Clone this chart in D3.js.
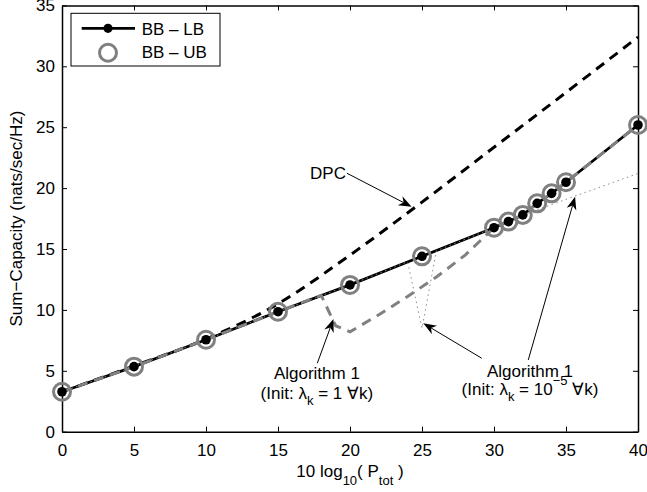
<!DOCTYPE html>
<html>
<head>
<meta charset="utf-8">
<script src="https://cdn.jsdelivr.net/npm/d3@7"></script>
<style>
body{margin:0;background:#fff}
text{font-family:"Liberation Sans",Arial,Helvetica,sans-serif}
</style>
</head>
<body>
<div id="chart"></div>
<script>
// branch-and-bound bounds (same points for LB and UB)
var bbX  = [0,5,10,15,20,25,30,31,32,33,34,35,40];
var bbLB = [3.28,5.34,7.55,9.85,12.05,14.4,16.75,17.25,17.8,18.75,19.57,20.48,25.18];
var bbUB = [3.28,5.34,7.55,9.85,12.05,14.4,16.75,17.25,17.8,18.75,19.57,20.48,25.18];

// dirty paper coding
var dpcX = [0,5,10,15,20,25,30,35,40];
var dpcY = [3.28,5.4,7.6,10.5,14.5,18.85,23.35,27.85,32.4];

// algorithm 1, init lambda = 1 (gray dashed)
var alg1aX = [0,5,10,15,18,19,20,22,24,26,28,30,31,32,33,34,35,40];
var alg1aY = [3.28,5.34,7.55,9.85,11.2,8.7,8.2,9.6,11.1,12.7,14.5,16.75,17.25,17.8,18.75,19.57,20.48,25.18];

// algorithm 1, init lambda = 1e-5 (dotted)
var alg1bX = [0,5,10,15,20,24,25,26,30,31,32,40];
var alg1bY = [3.28,5.34,7.55,9.85,12.05,13.95,8.5,14.85,16.75,17.25,17.8,21.2];

var xTicks = [0,5,10,15,20,25,30,35,40];
var yTicks = [0,5,10,15,20,25,30,35];

// annotation arrows [x1,y1,x2,y2] in data units (tip at x2,y2)
var arrows = [[19.79,21.22,24.28,18.47],[17.73,5.62,18.85,9.25],[29.15,6.03,25.09,8.9],[32.38,5.89,35.63,19.29]];

var W = 647, H = 492;
var svg = d3.select("#chart").append("svg").attr("width",W).attr("height",H);

var x = d3.scaleLinear().domain([0,40]).range([62,638]);
var y = d3.scaleLinear().domain([0,35]).range([431.7,5.4]);

var fs = 17;

function zipXY(a,b){ return a.map(function(v,i){ return [v,b[i]]; }); }
var line = d3.line().x(function(d){return x(d[0]);}).y(function(d){return y(d[1]);});
var curve = d3.line().curve(d3.curveMonotoneX).x(function(d){return x(d[0]);}).y(function(d){return y(d[1]);});

// axes (ticks pointing inward, box all round)
var gx = svg.append("g").attr("transform","translate(0,"+y(0)+")")
  .call(d3.axisBottom(x).tickValues(xTicks).tickSizeInner(-5).tickSizeOuter(0).tickPadding(12));
var gx2 = svg.append("g").attr("transform","translate(0,"+y(35)+")")
  .call(d3.axisTop(x).tickValues(xTicks).tickSizeInner(-5).tickSizeOuter(0).tickFormat(""));
var gy = svg.append("g").attr("transform","translate("+x(0)+",0)")
  .call(d3.axisLeft(y).tickValues(yTicks).tickSizeInner(-5).tickSizeOuter(0).tickPadding(7));
var gy2 = svg.append("g").attr("transform","translate("+x(40)+",0)")
  .call(d3.axisRight(y).tickValues(yTicks).tickSizeInner(-5).tickSizeOuter(0).tickFormat(""));
svg.selectAll(".domain").attr("stroke","#000").attr("stroke-width",1.5);
svg.selectAll(".tick line").attr("stroke","#000").attr("stroke-width",1);
svg.selectAll(".tick text").attr("font-size",fs+"px").attr("fill","#000")
  .style("font-family","'Liberation Sans',Arial,sans-serif");

// series lines
svg.append("path").attr("d",curve(zipXY(dpcX,dpcY)))
  .attr("fill","none").attr("stroke","#000").attr("stroke-width",3).attr("stroke-dasharray","10,7");
svg.append("path").attr("d",line(zipXY(bbX,bbLB)))
  .attr("fill","none").attr("stroke","#000").attr("stroke-width",2.8);
svg.append("path").attr("d",line(zipXY(alg1aX,alg1aY)))
  .attr("fill","none").attr("stroke","#808080").attr("stroke-width",3).attr("stroke-dasharray","10,7");
svg.append("path").attr("d",line(zipXY(alg1bX,alg1bY)))
  .attr("fill","none").attr("stroke","#8a8a8a").attr("stroke-width",1).attr("stroke-dasharray","1.5,3.5");

// markers
svg.selectAll(".ub").data(zipXY(bbX,bbUB)).enter().append("circle")
  .attr("cx",function(d){return x(d[0]);}).attr("cy",function(d){return y(d[1]);})
  .attr("r",8.5).attr("fill","none").attr("stroke","#808080").attr("stroke-width",3);
svg.selectAll(".lb").data(zipXY(bbX,bbLB)).enter().append("circle")
  .attr("cx",function(d){return x(d[0]);}).attr("cy",function(d){return y(d[1]);})
  .attr("r",4.8).attr("fill","#000");

// arrows
arrows.forEach(function(a){
  var x1=x(a[0]), y1=y(a[1]), x2=x(a[2]), y2=y(a[3]);
  var dx=x2-x1, dy=y2-y1, len=Math.sqrt(dx*dx+dy*dy);
  var ux=dx/len, uy=dy/len, px=-uy, py=ux;
  var L=13, w=5, n=9;
  svg.append("line").attr("x1",x1).attr("y1",y1).attr("x2",x2-ux*n).attr("y2",y2-uy*n)
    .attr("stroke","#000").attr("stroke-width",1);
  var pts=[[x2,y2],[x2-ux*L+px*w,y2-uy*L+py*w],[x2-ux*n,y2-uy*n],[x2-ux*L-px*w,y2-uy*L-py*w]];
  svg.append("path").attr("d","M"+pts.map(function(p){return p.join(",");}).join("L")+"Z").attr("fill","#000");
});

// annotation texts
svg.append("text").attr("x",x(19.72)).attr("y",y(21.22)).attr("dy","0.35em")
  .attr("text-anchor","end").attr("font-size",fs+"px").text("DPC");

function algLabel(cx,b1,b2,initTxt,sup){
  svg.append("text").attr("x",x(cx)).attr("y",y(b1)).attr("text-anchor","middle")
    .attr("font-size",fs+"px").text("Algorithm 1");
  var t = svg.append("text").attr("x",x(cx)).attr("y",y(b2)).attr("text-anchor","middle")
    .attr("font-size",fs+"px");
  t.append("tspan").text("(Init: \u03bb");
  t.append("tspan").attr("dy",6).attr("font-size","13px").text("k");
  t.append("tspan").attr("dy",-6).text(" = " + initTxt);
  if (sup) {
    t.append("tspan").attr("dy",-10).attr("font-size","13px").text(sup);
    t.append("tspan").attr("dy",10).text(" \u2200k)");
  } else {
    t.append("tspan").text(" \u2200k)");
  }
}
algLabel(17.7,4.3,2.71,"1",null);
algLabel(32.5,4.52,3.01,"10","\u22125");

// axis labels
var xl = svg.append("text").attr("x",x(20)).attr("y",476.7).attr("text-anchor","middle").attr("font-size",fs+"px");
xl.append("tspan").text("10 log");
xl.append("tspan").attr("dy",8).attr("font-size","13px").text("10");
xl.append("tspan").attr("dy",-8).text("( P");
xl.append("tspan").attr("dy",8).attr("font-size","13px").text("tot");
xl.append("tspan").attr("dy",-8).text(" )");

svg.append("text").attr("transform","translate(22,"+y(17.5)+") rotate(-90)")
  .attr("text-anchor","middle").attr("font-size",fs+"px").text("Sum\u2212Capacity (nats/sec/Hz)");

// legend
var lg = svg.append("g");
lg.append("rect").attr("x",71).attr("y",13.3).attr("width",149).attr("height",52.7)
  .attr("fill","#fff").attr("stroke","#000").attr("stroke-width",1);
lg.append("line").attr("x1",81.7).attr("x2",135).attr("y1",28.3).attr("y2",28.3)
  .attr("stroke","#000").attr("stroke-width",2.8);
lg.append("circle").attr("cx",108).attr("cy",28.3).attr("r",4.6).attr("fill","#000");
lg.append("circle").attr("cx",108).attr("cy",52.7).attr("r",8.5).attr("fill","none")
  .attr("stroke","#808080").attr("stroke-width",3);
lg.append("text").attr("x",141.7).attr("y",35).attr("font-size",fs+"px").text("BB \u2013 LB");
lg.append("text").attr("x",141.7).attr("y",57.5).attr("font-size",fs+"px").text("BB \u2013 UB");
</script>
</body>
</html>
